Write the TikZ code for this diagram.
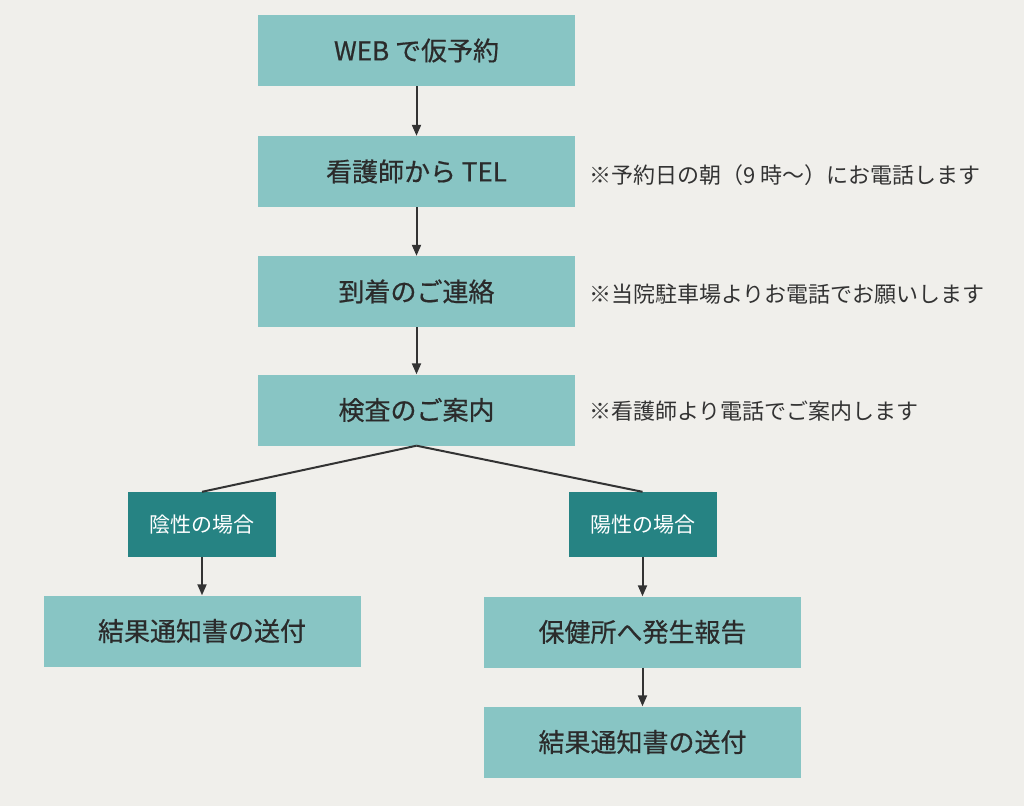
\documentclass[tikz,border=0pt]{standalone}
\usepackage{fontspec}
\setmainfont{Noto Sans CJK JP}
\newfontfamily\medfont[FakeBold=0.6]{Noto Sans CJK JP}
\usetikzlibrary{arrows.meta}
\definecolor{bg}{HTML}{F0EFEB}
\definecolor{lteal}{HTML}{88C5C4}
\definecolor{dteal}{HTML}{268383}
\definecolor{ink}{HTML}{2B2B2B}
\definecolor{noteink}{HTML}{333333}
\tikzset{
  mainbox/.style={fill=lteal, draw=none, minimum width=317pt, minimum height=71pt, inner sep=0pt, text=ink, font=\medfont\fontsize{26}{30}\selectfont},
  casebox/.style={fill=dteal, draw=none, minimum width=148pt, minimum height=65pt, inner sep=0pt, text=white, font=\fontsize{21}{24}\selectfont},
  note/.style={anchor=west, text=noteink, inner sep=0pt, font=\fontsize{22}{26}\selectfont},
  flow/.style={draw=noteink, line width=2pt, -{Triangle[length=11pt,width=9pt]}},
  branch/.style={draw=noteink, line width=2pt}
}
\begin{document}
\begin{tikzpicture}[x=1pt,y=-1pt]
\fill[bg] (0,0) rectangle (1024,806);
\useasboundingbox (0,0) rectangle (1024,806);
\node[mainbox] (b1) at (416.5,50.5) {WEB で仮予約};
\node[mainbox] (b2) at (416.5,171.5) {看護師から TEL};
\node[mainbox] (b3) at (416.5,291.5) {到着のご連絡};
\node[mainbox] (b4) at (416.5,410) {検査のご案内};
\node[casebox] (n1) at (202,524.5) {陰性の場合};
\node[casebox] (p1) at (642.5,524.5) {陽性の場合};
\node[mainbox] (r1) at (202,631) {結果通知書の送付};
\node[mainbox] (p2) at (642.5,632) {保健所へ発生報告};
\node[mainbox] (p3) at (642.5,742) {結果通知書の送付};
\node[note] (t2) at (589,175) {※予約日の朝（9 時〜）にお電話します};
\node[note] (t3) at (589,294) {※当院駐車場よりお電話でお願いします};
\node[note] (t4) at (589,411) {※看護師より電話でご案内します};
\draw[flow] (b1) -- (b2);
\draw[flow] (b2) -- (b3);
\draw[flow] (b3) -- (b4);
\draw[branch] (b4.south) -- (n1.north);
\draw[branch] (b4.south) -- (p1.north);
\draw[flow] (n1) -- (r1);
\draw[flow] (p1) -- (p2);
\draw[flow] (p2) -- (p3);
\end{tikzpicture}
\end{document}
